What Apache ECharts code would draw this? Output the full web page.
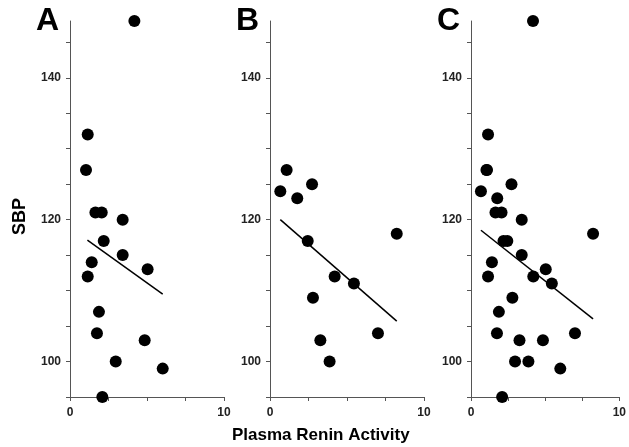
<!DOCTYPE html>
<html>

<head>
  <meta charset="utf-8">
  <style>
    html,
    body {
      width: 100%;
      height: 100%;
      margin: 0;
      padding: 0;
      overflow: hidden;
      background-color: #fff;
    }

    #container {
      width: 629px;
      height: 447px;
      position: absolute;
      top: 0;
      left: 0;
    }
  </style>
</head>

<body>
  <div id="container"></div>

  <script src="https://cdn.jsdelivr.net/npm/echarts@6/dist/echarts.min.js"></script>
  <script>
    // panel A points [renin, SBP]
    var pointsA = [
      [4.18, 148], [1.15, 132], [1.04, 127], [1.65, 121], [2.06, 121],
      [3.42, 120], [2.19, 117], [3.42, 115], [1.41, 114], [5.04, 113],
      [1.15, 112], [1.88, 107], [1.75, 104], [4.85, 103], [2.97, 100],
      [6.02, 99], [2.1, 95]
    ];
    // panel B points
    var pointsB = [
      [0.67, 124], [1.08, 127], [1.77, 123], [2.73, 125], [2.45, 117],
      [4.2, 112], [5.45, 111], [2.79, 109], [3.27, 103], [3.87, 100],
      [7.01, 104], [8.23, 118]
    ];
    // panel C = both groups
    var pointsC = pointsA.concat(pointsB);

    // fitted lines (end points)
    var lineA = [[1.13, 117.1], [6.02, 109.5]];
    var lineB = [[0.67, 120], [8.23, 105.7]];
    var lineC = [[0.67, 118.5], [8.23, 106]];

    var panelLetters = ['A', 'B', 'C'];
    var yTicks = [95, 100, 105, 110, 115, 120, 125, 130, 135, 140, 145];
    var yLabels = [100, 120, 140];
    var xTicks = [0, 2.5, 5, 7.5, 10];
    var xLabels = [0, 10];

    var chart = echarts.init(document.getElementById('container'));

    var font = '"Liberation Sans", Arial, sans-serif';
    var axisColor = '#555';
    var gridLefts = [70, 270, 471];

    var grids = [], xAxes = [], yAxes = [], series = [], graphics = [];
    var pts = [pointsA, pointsB, pointsC];
    var lines = [lineA, lineB, lineC];

    for (var i = 0; i < 3; i++) {
      grids.push({ left: gridLefts[i], top: 21, width: 154, height: 376 });
      xAxes.push({
        gridIndex: i, type: 'value', min: 0, max: 10,
        splitLine: { show: false },
        axisLine: { lineStyle: { color: axisColor, width: 1 } },
        axisTick: { length: 4, customValues: xTicks, lineStyle: { color: axisColor } },
        axisLabel: {
          customValues: xLabels, margin: 10,
          color: '#222', fontWeight: 'bold', fontSize: 12, fontFamily: font
        }
      });
      yAxes.push({
        gridIndex: i, type: 'value', min: 95, max: 148,
        splitLine: { show: false },
        axisLine: { onZero: false, lineStyle: { color: axisColor, width: 1 } },
        axisTick: { length: 4, customValues: yTicks, lineStyle: { color: axisColor } },
        axisLabel: {
          customValues: yLabels, margin: 9,
          color: '#222', fontWeight: 'bold', fontSize: 12, fontFamily: font
        }
      });
      series.push({
        type: 'scatter', xAxisIndex: i, yAxisIndex: i,
        data: pts[i], symbolSize: 12,
        itemStyle: { color: '#000', opacity: 1 }
      });
      series.push({
        type: 'line', xAxisIndex: i, yAxisIndex: i,
        data: lines[i], symbol: 'none',
        lineStyle: { color: '#000', width: 1.5 }
      });
      graphics.push({
        type: 'text', left: gridLefts[i] - 34, top: 5,
        style: { text: panelLetters[i], font: 'bold 32px ' + font, fill: '#000' }
      });
    }

    graphics.push({
      type: 'text', left: 11, top: 198, rotation: Math.PI / 2,
      style: { text: 'SBP', font: 'bold 18px ' + font, fill: '#000' }
    });
    graphics.push({
      type: 'text', left: 232, top: 427,
      style: { text: 'Plasma Renin Activity', font: 'bold 17px ' + font, fill: '#000' }
    });

    chart.setOption({
      animation: false,
      grid: grids,
      xAxis: xAxes,
      yAxis: yAxes,
      series: series,
      graphic: graphics
    });
  </script>
</body>

</html>
